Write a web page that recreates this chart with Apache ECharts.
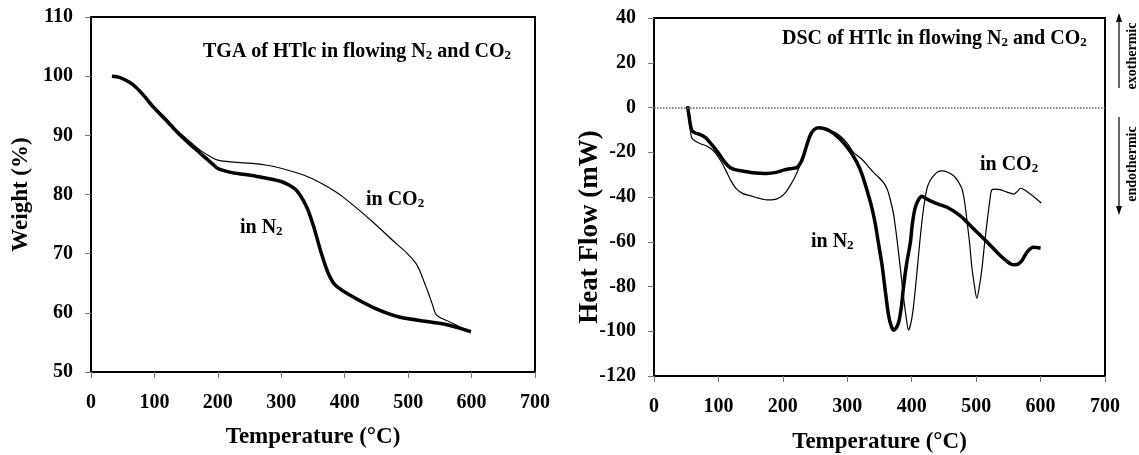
<!DOCTYPE html>
<html>
<head>
    <meta charset="utf-8"/>
    <title>TGA / DSC of HTlc</title>
    <script src="https://cdn.jsdelivr.net/npm/echarts@6.0.0/dist/echarts.min.js"></script>
    <style type="text/css">
        html, body { margin: 0; padding: 0; background: #fff; }
        #main { width: 1139px; height: 455px; }
    </style>
</head>
<body>
<div id="main"></div>
<script type="text/javascript">
// ---- data ----
// TGA, weight (%) vs temperature (C)
var tgaN2T  = [33, 45, 60, 70, 85, 98, 118, 138, 155, 172, 190, 200, 222, 260, 300, 323, 340, 351, 363, 374, 385, 408, 447, 486, 532, 565, 599];
var tgaN2W  = [100, 99.8, 99.0, 98.2, 96.5, 94.8, 92.6, 90.3, 88.6, 87.0, 85.3, 84.4, 83.7, 83.1, 82.2, 80.8, 77.9, 74.6, 70.1, 66.7, 64.7, 63.0, 60.8, 59.3, 58.5, 57.9, 56.8];
var tgaCO2T = [33, 45, 60, 70, 85, 98, 118, 138, 155, 172, 190, 200, 220, 250, 280, 301, 335, 363, 385, 397, 419, 447, 475, 498, 512, 518, 525, 532, 538, 543, 550, 565, 580, 599];
var tgaCO2W = [100, 99.8, 99.0, 98.2, 96.6, 95.0, 92.9, 90.6, 89.0, 87.5, 86.3, 85.8, 85.5, 85.3, 84.9, 84.4, 83.3, 81.9, 80.5, 79.6, 77.7, 75.1, 72.3, 70.1, 68.4, 67.2, 65.3, 63.3, 61.5, 59.9, 59.2, 58.5, 57.7, 56.8];

// DSC, heat flow (mW) vs temperature (C)
var dscN2T  = [52, 54, 56, 59, 65, 71, 80, 87, 95, 103, 110, 118, 126, 134, 150, 175, 190, 201, 215, 222, 228, 232, 237, 242, 248, 255, 265, 273, 284, 294, 305, 315, 323, 330, 337, 343, 348, 354, 359, 364, 368, 372, 376, 380, 384, 387, 392, 398, 401, 405, 410, 416, 421, 428, 444, 455, 475, 496, 517, 537, 553, 560, 566, 572, 579, 589, 600];
var dscN2H  = [0.6, -3, -7, -10.5, -11.5, -12, -13.5, -15.7, -18.5, -21.6, -24.5, -26.8, -27.8, -28.3, -29, -29.5, -29, -28, -27.2, -26.8, -24.5, -21.6, -17, -12.7, -10, -9.0, -9.5, -10.5, -12.8, -15.7, -19.8, -24.6, -30, -36.4, -43.5, -51.2, -60, -70.5, -82, -92.7, -97.5, -99.5, -98.5, -95.7, -89, -80.9, -70, -60.1, -52, -45.3, -41.5, -39.7, -40.5, -41.6, -43.5, -44.6, -48.3, -54.2, -60.1, -66, -69.8, -70.3, -69.8, -68, -64.6, -62.5, -62.8];
var dscCO2T = [52, 54, 56, 58.5, 65, 73, 82, 90, 97, 105, 113, 120, 128, 138, 149, 162, 175, 186, 196, 204, 211, 218, 224, 232, 237, 242, 248, 255, 265, 278, 289, 300, 309.5, 317, 325, 333, 340.5, 349, 356, 362, 366.5, 372, 377, 382, 387, 391, 395, 399, 403, 408, 413, 418, 423.5, 428, 434, 440, 447, 455, 465, 472, 478, 482, 486, 490, 493, 497, 501, 505, 509, 513, 517, 521, 524, 530, 537, 548, 558, 564, 569, 576, 584, 593, 601];
var dscCO2H = [0.6, -4, -9, -13.5, -15.2, -16.3, -17.2, -18.8, -20.9, -24.5, -29, -33, -36.4, -38.5, -39.4, -40.5, -41.3, -41.2, -40.1, -38, -35, -31.5, -27.6, -21.6, -17, -12.7, -10, -9.0, -9.6, -10.8, -12.7, -16, -20.1, -21.8, -23.8, -26.5, -29, -31.3, -33.5, -36.5, -40.9, -48, -58.7, -71, -83.9, -93, -99.5, -96, -88.3, -74, -58.7, -46, -36.4, -33, -30.5, -28.8, -28.3, -28.8, -30.5, -33, -36.4, -42, -51.2, -61, -70.5, -79, -85.3, -80, -72, -61, -51.2, -42, -37, -36.5, -36.7, -37.8, -38.7, -37.5, -36.1, -37, -38.7, -40.7, -42.7];

// axis ticks
var tempTicks = { min: 0, max: 700, step: 100 };
var weightTicks = { min: 50, max: 110, step: 10 };
var heatTicks = { min: -120, max: 40, step: 20 };

function pairs(xs, ys) {
    var out = [];
    for (var i = 0; i < xs.length; i++) out.push([xs[i], ys[i]]);
    return out;
}

var FONT = 'Liberation Serif, Times New Roman, serif';
var rich = {
    a: { fontFamily: FONT, fontWeight: 'bold', fontSize: 20, color: '#000', lineHeight: 21 },
    s: { fontFamily: FONT, fontWeight: 'bold', fontSize: 13, color: '#000', lineHeight: 12, verticalAlign: 'bottom' }
};

function xAxisOf(idx, gap) {
    return {
        gridIndex: idx, type: 'value',
        min: tempTicks.min, max: tempTicks.max, interval: tempTicks.step,
        name: 'Temperature (°C)', nameLocation: 'middle', nameGap: gap, nameMoveOverlap: false,
        nameTextStyle: { fontFamily: FONT, fontWeight: 'bold', fontSize: 23, color: '#000' },
        axisLine: { show: true, onZero: false, lineStyle: { color: '#000', width: 2 } },
        axisTick: { show: true, inside: false, length: 6, lineStyle: { color: '#777', width: 1 } },
        axisLabel: { margin: 21, fontFamily: FONT, fontWeight: 'bold', fontSize: 20, color: '#000' },
        splitLine: { show: false }
    };
}

function yAxisOf(idx, ticks, title, gap, pad, size) {
    return {
        gridIndex: idx, type: 'value',
        min: ticks.min, max: ticks.max, interval: ticks.step,
        name: title, nameLocation: 'middle', nameGap: gap, nameMoveOverlap: false,
        nameTextStyle: { fontFamily: FONT, fontWeight: 'bold', fontSize: size, color: '#000', padding: pad },
        axisLine: { show: true, onZero: false, lineStyle: { color: '#000', width: 2 } },
        axisTick: { show: true, inside: false, length: 6, lineStyle: { color: '#777', width: 1 } },
        axisLabel: { margin: 18, fontFamily: FONT, fontWeight: 'bold', fontSize: 20, color: '#000' },
        splitLine: { show: false }
    };
}

function lineOf(idx, data, width) {
    return {
        type: 'line', xAxisIndex: idx, yAxisIndex: idx,
        data: data, showSymbol: false, symbol: 'none', smooth: 0.25,
        lineStyle: { color: '#000', width: width }
    };
}

function label(x, y, text) {
    return { type: 'text', x: x, y: y, style: { text: text, rich: rich, verticalAlign: 'middle', align: 'left' } };
}

var myChart = echarts.init(document.getElementById('main'));

var co2Dsc = lineOf(1, pairs(dscCO2T, dscCO2H), 1.2);
co2Dsc.markLine = {
    silent: true, symbol: ['none', 'none'], label: { show: false },
    lineStyle: { type: 'dotted', color: '#555', width: 1.5 },
    data: [{ yAxis: 0 }]
};

var option = {
    animation: false,
    backgroundColor: '#fff',
    grid: [
        { left: 91, top: 17, width: 444, height: 355, show: true, borderColor: '#000', borderWidth: 2, outerBoundsMode: 'none' },
        { left: 654, top: 18, width: 451, height: 358, show: true, borderColor: '#000', borderWidth: 2, outerBoundsMode: 'none' }
    ],
    xAxis: [xAxisOf(0, 54), xAxisOf(1, 55)],
    yAxis: [
        yAxisOf(0, weightTicks, 'Weight (%)', 58, [0, 0, 0, 0], 23),
        yAxisOf(1, heatTicks, 'Heat Flow (mW)', 50, [0, 60, 0, 0], 27)
    ],
    series: [
        lineOf(0, pairs(tgaCO2T, tgaCO2W), 1.2),
        lineOf(0, pairs(tgaN2T, tgaN2W), 3.5),
        co2Dsc,
        lineOf(1, pairs(dscN2T, dscN2H), 3.5)
    ],
    graphic: [
        label(203, 52, '{a|TGA of HTlc in flowing N}{s|2}{a| and CO}{s|2}'),
        label(240, 228, '{a|in N}{s|2}'),
        label(366, 200, '{a|in CO}{s|2}'),
        label(782, 39, '{a|DSC of HTlc in flowing N}{s|2}{a| and CO}{s|2}'),
        label(811, 242, '{a|in N}{s|2}'),
        label(980, 165, '{a|in CO}{s|2}'),
        // exo / endo markers
        { type: 'line', shape: { x1: 1119, y1: 20, x2: 1119, y2: 88 }, style: { stroke: '#000', lineWidth: 1.2 } },
        { type: 'polygon', shape: { points: [[1119, 13], [1116, 22], [1122, 22]] }, style: { fill: '#000' } },
        { type: 'line', shape: { x1: 1119, y1: 117, x2: 1119, y2: 208 }, style: { stroke: '#000', lineWidth: 1.2 } },
        { type: 'polygon', shape: { points: [[1119, 215], [1116, 206], [1122, 206]] }, style: { fill: '#000' } },
        { type: 'text', x: 1132, y: 56, rotation: Math.PI / 2,
          style: { text: 'exothermic', font: 'bold 14px ' + FONT, fill: '#000', align: 'center', verticalAlign: 'middle' } },
        { type: 'text', x: 1132, y: 164, rotation: Math.PI / 2,
          style: { text: 'endothermic', font: 'bold 14px ' + FONT, fill: '#000', align: 'center', verticalAlign: 'middle' } }
    ]
};
myChart.setOption(option);
</script>
</body>
</html>
